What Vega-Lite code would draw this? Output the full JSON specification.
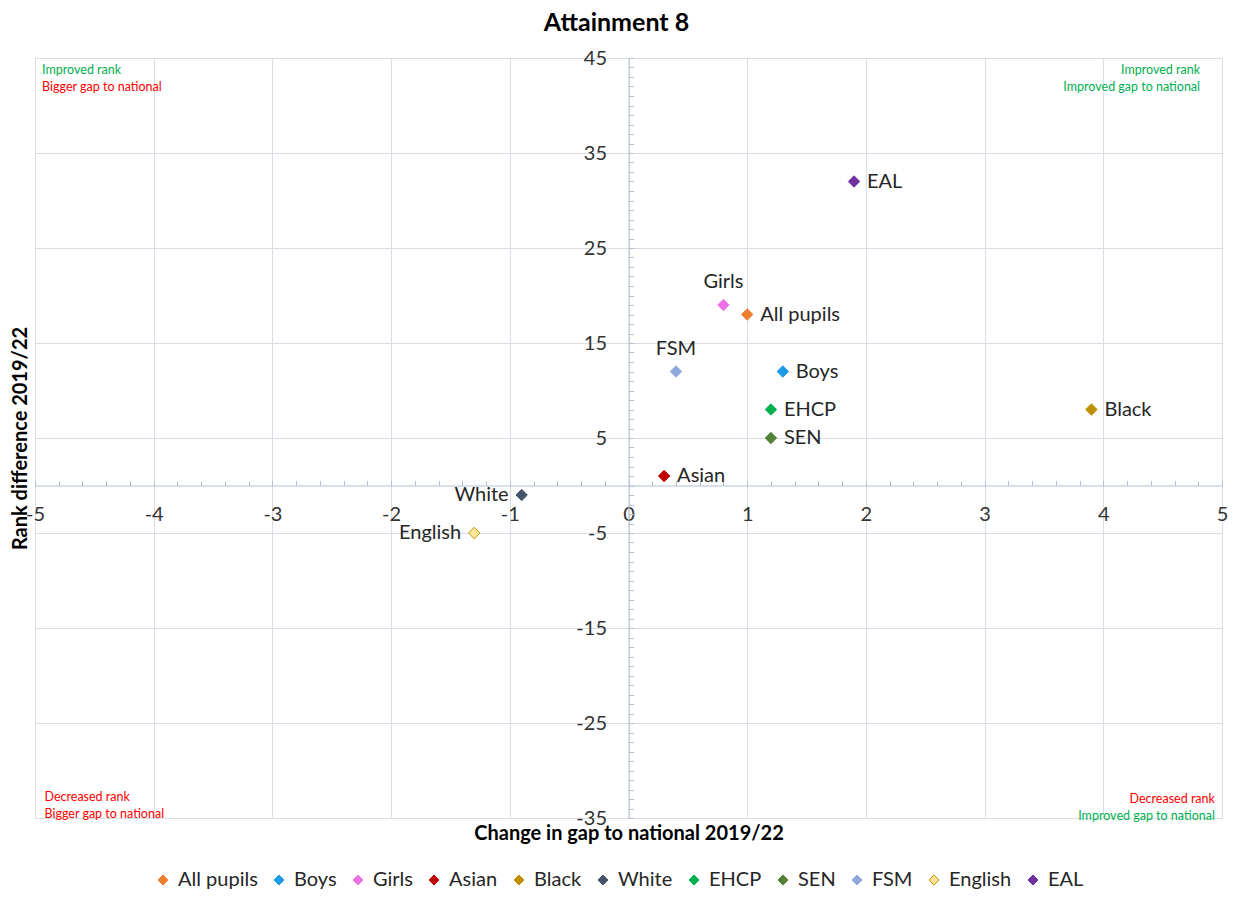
{
  "$schema": "https://vega.github.io/schema/vega-lite/v6.json",
  "autosize": "none",
  "width": 1187,
  "height": 760,
  "padding": {"left": 35, "top": 58, "right": 15, "bottom": 79},
  "background": "white",
  "title": {"text": "Attainment 8", "font": "Lato", "fontSize": 25, "fontWeight": "bold", "color": "#000000", "anchor": "middle", "dx": -12, "offset": 12},
  "config": {"view": {"stroke": null}},
  "datasets": {
    "pts": [
      {"group": "All pupils", "gap": 1.0, "rank": 18, "pos": "right"},
      {"group": "Boys", "gap": 1.3, "rank": 12, "pos": "right"},
      {"group": "Girls", "gap": 0.8, "rank": 19, "pos": "above"},
      {"group": "Asian", "gap": 0.3, "rank": 1, "pos": "right"},
      {"group": "Black", "gap": 3.9, "rank": 8, "pos": "right"},
      {"group": "White", "gap": -0.9, "rank": -1, "pos": "left"},
      {"group": "EHCP", "gap": 1.2, "rank": 8, "pos": "right"},
      {"group": "SEN", "gap": 1.2, "rank": 5, "pos": "right"},
      {"group": "FSM", "gap": 0.4, "rank": 12, "pos": "above"},
      {"group": "English", "gap": -1.3, "rank": -5, "pos": "left"},
      {"group": "EAL", "gap": 1.9, "rank": 32, "pos": "right"}
    ],
    "notes": [
      {"text": "Improved rank", "gap": -4.94, "rank": 43.7, "kind": "good", "side": "left"},
      {"text": "Bigger gap to national", "gap": -4.94, "rank": 41.9, "kind": "bad", "side": "left"},
      {"text": "Improved rank", "gap": 4.815, "rank": 43.7, "kind": "good", "side": "right"},
      {"text": "Improved gap to national", "gap": 4.815, "rank": 41.9, "kind": "good", "side": "right"},
      {"text": "Decreased rank", "gap": -4.92, "rank": -32.8, "kind": "bad", "side": "left"},
      {"text": "Bigger gap to national", "gap": -4.92, "rank": -34.6, "kind": "bad", "side": "left"},
      {"text": "Decreased rank", "gap": 4.94, "rank": -33.0, "kind": "bad", "side": "right"},
      {"text": "Improved gap to national", "gap": 4.94, "rank": -34.8, "kind": "good", "side": "right"}
    ]
  },
  "resolve": {"axis": {"x": "independent", "y": "independent"}},
  "layer": [
    {
      "data": {"name": "pts"},
      "mark": {"type": "point", "shape": "diamond", "filled": true, "size": 130, "opacity": 1, "strokeWidth": 1},
      "encoding": {
        "x": {"field": "gap", "type": "quantitative",
          "scale": {"domain": [-5, 5], "nice": false, "zero": false},
          "axis": {"orient": "bottom", "grid": true, "values": [-5, -4, -3, -2, -1, 0, 1, 2, 3, 4, 5], "labels": false, "ticks": false, "domain": false, "gridColor": "#D9DDE4", "gridWidth": 1,
            "title": "Change in gap to national 2019/22", "titleFont": "Lato", "titleFontSize": 20, "titleFontWeight": "bold", "titleColor": "#000000", "titlePadding": 5}},
        "y": {"field": "rank", "type": "quantitative",
          "scale": {"domain": [-35, 45], "nice": false, "zero": false},
          "axis": {"orient": "left", "grid": true, "values": [-35, -25, -15, -5, 5, 15, 25, 35, 45], "labels": false, "ticks": false, "domain": false, "gridColor": "#D9DDE4", "gridWidth": 1,
            "title": "Rank difference 2019/22", "titleFont": "Lato", "titleFontSize": 20, "titleFontWeight": "bold", "titleColor": "#000000", "titlePadding": 5}},
        "fill": {"field": "group", "type": "nominal",
          "scale": {"domain": ["All pupils", "Boys", "Girls", "Asian", "Black", "White", "EHCP", "SEN", "FSM", "English", "EAL"],
            "range": ["#ED7D31", "#1E9BE8", "#EE72E6", "#C00000", "#BF9000", "#44546A", "#00B050", "#548235", "#8EA9DB", "#FFE699", "#7030A0"]},
          "legend": {"title": null, "orient": "none", "direction": "horizontal", "legendX": 118, "legendY": 812, "symbolType": "diamond", "symbolSize": 100, "symbolStrokeWidth": 1, "labelFont": "Lato", "labelFontSize": 20, "labelColor": "#262626", "labelOffset": 5, "columnPadding": 11}},
        "stroke": {"field": "group", "type": "nominal",
          "scale": {"domain": ["All pupils", "Boys", "Girls", "Asian", "Black", "White", "EHCP", "SEN", "FSM", "English", "EAL"],
            "range": ["#ED7D31", "#1E9BE8", "#EE72E6", "#C00000", "#BF9000", "#44546A", "#00B050", "#548235", "#8EA9DB", "#BF9000", "#7030A0"]},
          "legend": {"title": null, "orient": "none", "direction": "horizontal", "legendX": 118, "legendY": 812, "symbolType": "diamond", "symbolSize": 100, "symbolStrokeWidth": 1, "labelFont": "Lato", "labelFontSize": 20, "labelColor": "#262626", "labelOffset": 5, "columnPadding": 11}}
      }
    },
    {
      "data": {"name": "pts"},
      "transform": [{"filter": "datum.pos === 'right'"}],
      "mark": {"type": "text", "align": "left", "baseline": "middle", "dx": 13, "font": "Lato", "fontSize": 20, "color": "#262626"},
      "encoding": {
        "x": {"field": "gap", "type": "quantitative",
          "axis": {"orient": "bottom", "offset": -332.5, "grid": false, "title": null, "domain": true, "domainColor": "#B4C0D2", "domainWidth": 1, "ticks": true, "tickSize": -5, "tickColor": "#B4C0D2", "tickWidth": 1,
            "values": [-5, -4.8, -4.6, -4.4, -4.2, -4, -3.8, -3.6, -3.4, -3.2, -3, -2.8, -2.6, -2.4, -2.2, -2, -1.8, -1.6, -1.4, -1.2, -1, -0.8, -0.6, -0.4, -0.2, 0, 0.2, 0.4, 0.6, 0.8, 1, 1.2, 1.4, 1.6, 1.8, 2, 2.2, 2.4, 2.6, 2.8, 3, 3.2, 3.4, 3.6, 3.8, 4, 4.2, 4.4, 4.6, 4.8, 5],
            "labelExpr": "abs(datum.value - round(datum.value)) < 0.001 ? '' + round(datum.value) : ''",
            "labelFont": "Lato", "labelFontSize": 20, "labelColor": "#333333", "labelPadding": 24, "labelOverlap": false, "labelFlush": false, "labelBound": false}},
        "y": {"field": "rank", "type": "quantitative",
          "axis": {"orient": "left", "offset": -593.5, "grid": false, "title": null, "domain": true, "domainColor": "#B4C0D2", "domainWidth": 1, "ticks": true, "tickSize": -5, "tickColor": "#B4C0D2", "tickWidth": 1,
            "values": [-35, -34, -33, -32, -31, -30, -29, -28, -27, -26, -25, -24, -23, -22, -21, -20, -19, -18, -17, -16, -15, -14, -13, -12, -11, -10, -9, -8, -7, -6, -5, -4, -3, -2, -1, 0, 1, 2, 3, 4, 5, 6, 7, 8, 9, 10, 11, 12, 13, 14, 15, 16, 17, 18, 19, 20, 21, 22, 23, 24, 25, 26, 27, 28, 29, 30, 31, 32, 33, 34, 35, 36, 37, 38, 39, 40, 41, 42, 43, 44, 45],
            "labelExpr": "abs(datum.value % 10) == 5 ? '' + datum.value : ''",
            "labelFont": "Lato", "labelFontSize": 20, "labelColor": "#333333", "labelPadding": 27, "labelOverlap": false, "labelFlush": false, "labelBound": false}},
        "text": {"field": "group", "type": "nominal"}
      }
    },
    {
      "data": {"name": "pts"},
      "transform": [{"filter": "datum.pos === 'left'"}],
      "mark": {"type": "text", "align": "right", "baseline": "middle", "dx": -13, "font": "Lato", "fontSize": 20, "color": "#262626"},
      "encoding": {
        "x": {"field": "gap", "type": "quantitative", "axis": null},
        "y": {"field": "rank", "type": "quantitative", "axis": null},
        "text": {"field": "group", "type": "nominal"}
      }
    },
    {
      "data": {"name": "pts"},
      "transform": [{"filter": "datum.pos === 'above'"}],
      "mark": {"type": "text", "align": "center", "baseline": "middle", "dy": -23, "font": "Lato", "fontSize": 20, "color": "#262626"},
      "encoding": {
        "x": {"field": "gap", "type": "quantitative", "axis": null},
        "y": {"field": "rank", "type": "quantitative", "axis": null},
        "text": {"field": "group", "type": "nominal"}
      }
    },
    {
      "data": {"name": "notes"},
      "transform": [{"filter": "datum.side === 'left'"}],
      "mark": {"type": "text", "align": "left", "baseline": "middle", "font": "Lato", "fontSize": 12.5},
      "encoding": {
        "x": {"field": "gap", "type": "quantitative", "axis": null},
        "y": {"field": "rank", "type": "quantitative", "axis": null},
        "text": {"field": "text", "type": "nominal"},
        "color": {"field": "kind", "type": "nominal", "scale": {"domain": ["good", "bad"], "range": ["#00B050", "#FF0000"]}, "legend": null}
      }
    },
    {
      "data": {"name": "notes"},
      "transform": [{"filter": "datum.side === 'right'"}],
      "mark": {"type": "text", "align": "right", "baseline": "middle", "font": "Lato", "fontSize": 12.5},
      "encoding": {
        "x": {"field": "gap", "type": "quantitative", "axis": null},
        "y": {"field": "rank", "type": "quantitative", "axis": null},
        "text": {"field": "text", "type": "nominal"},
        "color": {"field": "kind", "type": "nominal", "scale": {"domain": ["good", "bad"], "range": ["#00B050", "#FF0000"]}, "legend": null}
      }
    }
  ]
}
